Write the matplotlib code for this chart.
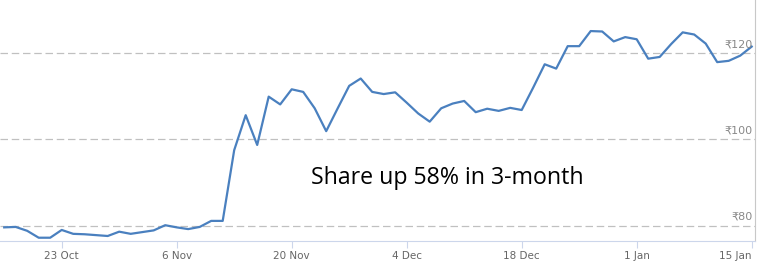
import matplotlib
matplotlib.use("Agg")
import matplotlib.pyplot as plt
import matplotlib.transforms as mtransforms
import pandas as pd

# daily closing price, trading days 16 Oct 2017 - 15 Jan 2018
dates = pd.bdate_range("2017-10-16", "2018-01-15")
prices = [79.6, 79.7, 78.8, 77.2, 77.2, 79.0, 78.1, 78.0, 77.8, 77.6,
          78.6, 78.1, 78.5, 78.9, 80.1, 79.6, 79.2, 79.7, 81.1, 81.1,
          97.5, 105.6, 98.7, 109.9, 108.1, 111.6, 111.0, 107.2, 101.9, 107.2,
          112.4, 114.1, 111.0, 110.5, 110.9, 108.5, 106.0, 104.1, 107.2, 108.3,
          108.9, 106.3, 107.1, 106.6, 107.3, 106.8, 112.0, 117.4, 116.4, 121.6,
          121.6, 125.1, 125.0, 122.7, 123.7, 123.2, 118.7, 119.1, 122.1, 124.8,
          124.3, 122.2, 117.9, 118.2, 119.4, 121.5]
tick_dates = ["2017-10-23", "2017-11-06", "2017-11-20", "2017-12-04",
              "2017-12-18", "2018-01-01", "2018-01-15"]
tick_labels = ["23 Oct", "6 Nov", "20 Nov", "4 Dec", "18 Dec", "1 Jan", "15 Jan"]
grid_levels = [80, 100, 120]
grid_labels = ["₹80", "₹100", "₹120"]
note = "Share up 58% in 3-month"

fig = plt.figure(figsize=(7.58, 2.67), dpi=100)
ax = fig.add_axes([0, 26 / 267, 755 / 758, 241 / 267])

# trading days are evenly spaced (no weekend gaps)
idx = list(range(len(dates)))
ax.plot(idx, prices, color="#4a80bf", linewidth=1.6, zorder=3)

ax.set_xlim(-4.2 / 11.5, (755 - 4.2) / 11.5)
ax.set_ylim(76.44, 132.3)

for lv in grid_levels:
    ax.axhline(lv, color="#c0c0c0", linewidth=0.9, dashes=(6, 3), zorder=1)
trans = mtransforms.blended_transform_factory(ax.transAxes, ax.transData)
for lv, lab in zip(grid_levels, grid_labels):
    ax.text(0.997, lv + 0.9, lab, transform=trans, ha="right", va="bottom",
            fontsize=8, color="#888888", family="DejaVu Sans")

ax.set_xticks([dates.get_loc(pd.Timestamp(d)) for d in tick_dates])
ax.set_xticklabels(tick_labels)
ax.tick_params(axis="x", colors="#ccd6eb", length=5, width=0.8, labelsize=7.5,
               labelcolor="#666666", pad=2)
ax.get_xticklabels()[-1].set_horizontalalignment("right")
ax.set_yticks([])

for s in ["top", "left"]:
    ax.spines[s].set_visible(False)
ax.spines["bottom"].set_color("#ccd6eb")
ax.spines["right"].set_color("#c8c8c8")
ax.spines["right"].set_linewidth(0.8)

ax.text(0.592, 0.26, note, transform=ax.transAxes, ha="center", va="center",
        fontsize=16.7, family="Open Sans", color="black")

fig.savefig("out.png", dpi=100)
